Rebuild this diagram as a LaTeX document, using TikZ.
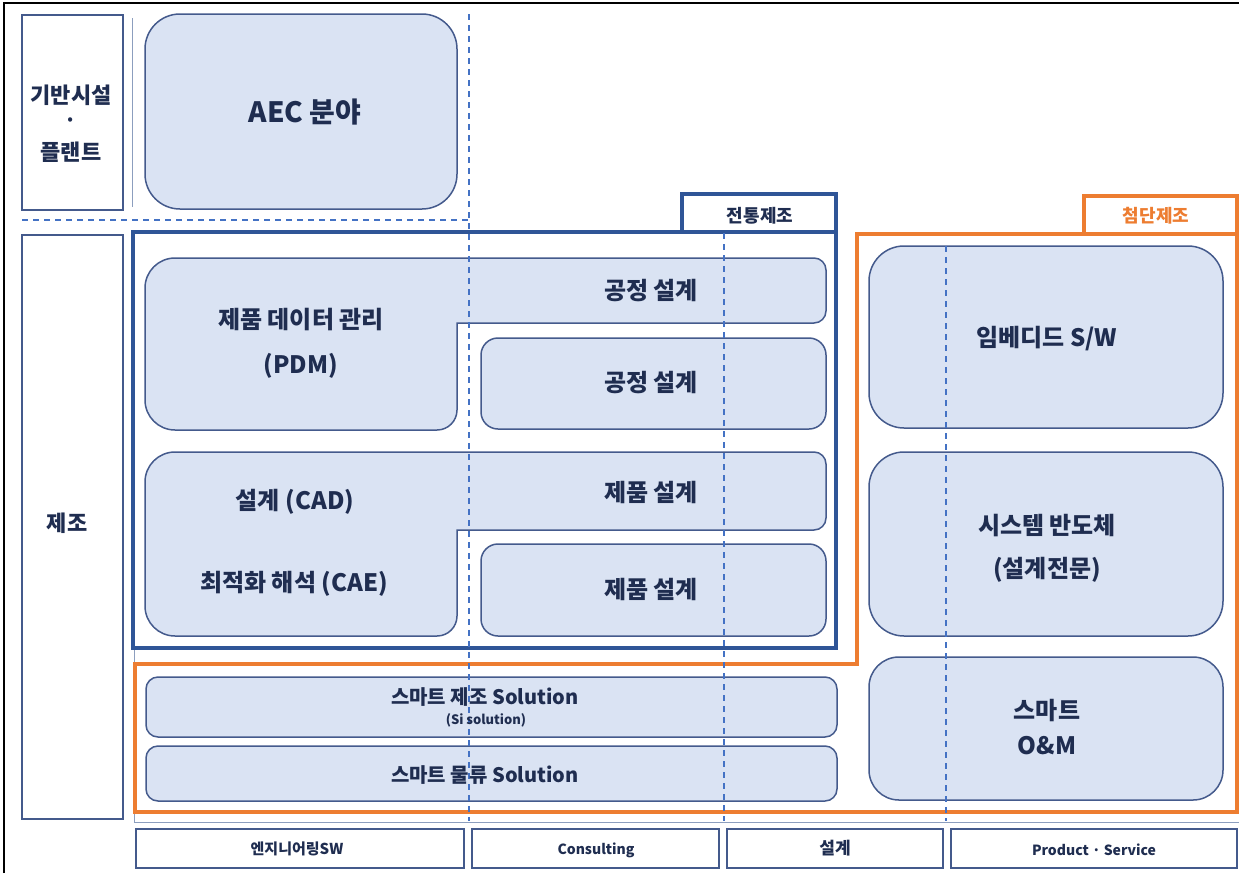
\documentclass[tikz,border=0pt]{standalone}
\usepackage{fontspec}
\setmainfont{Noto Sans CJK KR}
\definecolor{boxfill}{RGB}{218,227,243}
\definecolor{boxline}{RGB}{68,90,140}
\definecolor{navy}{RGB}{47,85,151}
\definecolor{orng}{RGB}{237,125,49}
\definecolor{txt}{RGB}{31,45,80}
\definecolor{dashc}{RGB}{68,114,196}
\definecolor{thin}{RGB}{140,158,190}
\tikzset{
  bx/.style={fill=boxfill,draw=boxline,line width=1.5pt},
  wbox/.style={fill=white,draw=boxline,line width=1.5pt},
  frameN/.style={draw=navy,line width=4pt,line join=miter},
  frameO/.style={draw=orng,line width=4pt,line join=miter},
  dsh/.style={draw=dashc,line width=1.3pt,dash pattern=on 6pt off 5pt},
  thinln/.style={draw=thin,line width=1pt},
  lbl/.style={text=txt,font=\bfseries\fontsize{24}{28}\selectfont,inner sep=0pt},
  sml/.style={text=txt,font=\bfseries\fontsize{14}{17}\selectfont,inner sep=0pt},
}
\begin{document}
\begin{tikzpicture}[x=1pt,y=-1pt]
\useasboundingbox (0,0) rectangle (1239,873);
\fill[white] (0,0) rectangle (1239,873);
% outer border (top, left)
\draw[black,line width=2pt] (4,873) -- (4,3) -- (1239,3);
% left category boxes
\draw[wbox] (22,15) rectangle (123,210);
\draw[wbox] (22,235) rectangle (123,819);
\draw[thinln] (132,18) -- (132,207);
\draw[thinln] (134,232) -- (134,822) -- (1239,822);
% AEC box
\draw[bx,rounded corners=35pt] (145,14) rectangle (457,209);
% PDM L-shape
\draw[bx] (145,288) arc[start angle=180,end angle=270,radius=30] -- (814,258)
  arc[start angle=270,end angle=360,radius=12] -- (826,311)
  arc[start angle=0,end angle=90,radius=12] -- (457,323) -- (457,410)
  arc[start angle=0,end angle=90,radius=20] -- (175,430)
  arc[start angle=90,end angle=180,radius=30] -- cycle;
\draw[bx,rounded corners=17pt] (481,338) rectangle (826,429);
% CAD L-shape
\draw[bx] (145,482) arc[start angle=180,end angle=270,radius=30] -- (814,452)
  arc[start angle=270,end angle=360,radius=12] -- (826,518)
  arc[start angle=0,end angle=90,radius=12] -- (457,530) -- (457,616)
  arc[start angle=0,end angle=90,radius=20] -- (175,636)
  arc[start angle=90,end angle=180,radius=30] -- cycle;
\draw[bx,rounded corners=17pt] (481,544) rectangle (826,636);
% solution bars
\draw[bx,rounded corners=12pt] (146,677) rectangle (837,737);
\draw[bx,rounded corners=12pt] (146,746) rectangle (837,801);
% right boxes
\draw[bx,rounded corners=35pt] (869,246) rectangle (1223,428);
\draw[bx,rounded corners=35pt] (869,452) rectangle (1223,636);
\draw[bx,rounded corners=30pt] (869,657) rectangle (1223,800);
% frames
\draw[frameN] (133,232) -- (682,232) -- (682,194) -- (836,194) -- (836,648) -- (133,648) -- cycle;
\draw[frameN] (682,232) -- (836,232);
\draw[frameO] (135,664) -- (857,664) -- (857,234) -- (1084,234) -- (1084,196) -- (1237,196) -- (1237,812) -- (135,812) -- cycle;
\draw[frameO] (1084,234) -- (1237,234);
% dashed guides
\draw[dsh] (22,220) -- (469,220);
\draw[dsh] (469,14) -- (469,821);
\draw[dsh] (724,233) -- (724,821);
\draw[dsh] (946,246) -- (946,821);
% bottom labels
\draw[wbox] (136,829) rectangle (464,868);
\draw[wbox] (472,829) rectangle (719,868);
\draw[wbox] (727,829) rectangle (943,868);
\draw[wbox] (951,829) rectangle (1237,868);
% texts
\node[lbl,font=\bfseries\fontsize{22}{26}\selectfont] (t1) at (71,95) {기반시설};
\node[lbl,font=\bfseries\fontsize{20}{24}\selectfont] (t1d) at (71,123) {·};
\node[lbl,font=\bfseries\fontsize{22}{26}\selectfont] (t1b) at (71,152) {플랜트};
\node[lbl,font=\bfseries\fontsize{22}{26}\selectfont] (t2) at (67,523) {제조};
\node[lbl,font=\bfseries\fontsize{28}{34}\selectfont] (aec) at (305,112) {AEC 분야};
\node[sml,font=\bfseries\fontsize{18}{21}\selectfont] (tn) at (760,216) {전통제조};
\node[sml,font=\bfseries\fontsize{18}{21}\selectfont,text=orng] (to) at (1156,216) {첨단제조};
\node[lbl] (pdm1) at (301,320) {제품 데이터 관리};
\node[lbl] (pdm2) at (301,366) {(PDM)};
\node[lbl] (gj1) at (651,291) {공정 설계};
\node[lbl] (gj2) at (651,383) {공정 설계};
\node[lbl] (cad) at (295,502) {설계 (CAD)};
\node[lbl] (cae) at (294,584) {최적화 해석 (CAE)};
\node[lbl] (jp1) at (651,492) {제품 설계};
\node[lbl] (jp2) at (651,589) {제품 설계};
\node[lbl] (emb) at (1047,339) {임베디드 S/W};
\node[lbl] (sys1) at (1047,526) {시스템 반도체};
\node[lbl] (sys2) at (1047,570) {(설계전문)};
\node[lbl] (om1) at (1047,711) {스마트};
\node[lbl] (om2) at (1047,746) {O\&M};
\node[lbl,font=\bfseries\fontsize{20}{24}\selectfont] (sm1) at (485,697) {스마트 제조 Solution};
\node[lbl,font=\bfseries\fontsize{13}{15}\selectfont] (sm1b) at (486,720) {(Si solution)};
\node[lbl,font=\bfseries\fontsize{20}{24}\selectfont] (sm2) at (485,775) {스마트 물류 Solution};
\node[sml,font=\bfseries\fontsize{15}{18}\selectfont] (b1) at (297,849) {엔지니어링SW};
\node[sml] (b2) at (596,850) {Consulting};
\node[sml,font=\bfseries\fontsize{17}{20}\selectfont] (b3) at (835,848) {설계};
\node[sml] (b4) at (1094,850) {Product · Service};
\end{tikzpicture}
\end{document}
